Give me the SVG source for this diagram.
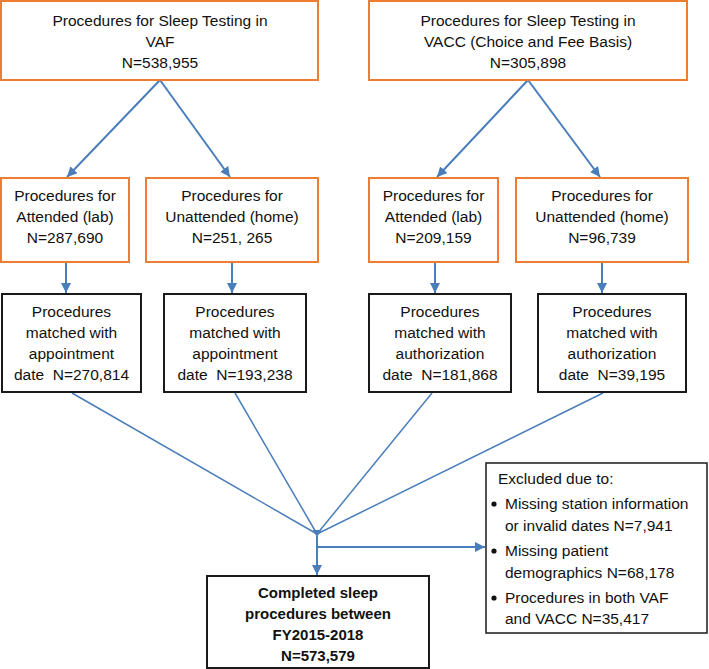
<svg xmlns="http://www.w3.org/2000/svg" width="709" height="669" viewBox="0 0 709 669">
<style>
  .o { fill: #ffffff; stroke: #ED7D31; stroke-width: 2; }
  .k { fill: #ffffff; stroke: #1a1a1a; stroke-width: 2; }
  .kx { fill: #ffffff; stroke: #1a1a1a; stroke-width: 1.5; }
  text { font-family: "Liberation Sans", Arial, sans-serif; font-size: 15.5px; fill: #111; white-space: pre; }
  .c { text-anchor: middle; }
  .b { font-weight: bold; font-size: 15px; }
  .ln { stroke: #4A7EBB; stroke-width: 2; fill: none; }
  .ln1 { stroke: #4A7EBB; stroke-width: 1.5; fill: none; }
</style>
<defs>
  <marker id="ah" viewBox="0 0 10 10" refX="10" refY="5" markerWidth="10" markerHeight="10" markerUnits="userSpaceOnUse" orient="auto">
    <path d="M0,0 L10,5 L0,10 z" fill="#4A7EBB"/>
  </marker>
</defs>

<g id="connectors">
  <line class="ln" x1="160" y1="80" x2="67" y2="177" marker-end="url(#ah)"/>
  <line class="ln" x1="160" y1="80" x2="230" y2="177" marker-end="url(#ah)"/>
  <line class="ln" x1="528" y1="80" x2="437" y2="177" marker-end="url(#ah)"/>
  <line class="ln" x1="528" y1="80" x2="600" y2="177" marker-end="url(#ah)"/>
  <line class="ln" x1="66" y1="263" x2="66" y2="293" marker-end="url(#ah)"/>
  <line class="ln" x1="232" y1="263" x2="232" y2="293" marker-end="url(#ah)"/>
  <line class="ln" x1="435" y1="263" x2="435" y2="293" marker-end="url(#ah)"/>
  <line class="ln" x1="602" y1="263" x2="602" y2="293" marker-end="url(#ah)"/>
  <line class="ln1" x1="72" y1="393" x2="317" y2="534"/>
  <line class="ln1" x1="235" y1="393" x2="317" y2="534"/>
  <line class="ln1" x1="432" y1="393" x2="317" y2="534"/>
  <line class="ln1" x1="603" y1="393" x2="317" y2="534"/>
  <path d="M312.5,530 L321.5,530 L317,537 z" fill="#4A7EBB"/>
  <line class="ln" x1="317" y1="536" x2="317" y2="575" marker-end="url(#ah)"/>
  <line class="ln" x1="317" y1="547" x2="485" y2="547" marker-end="url(#ah)"/>
</g>

<g id="vaf">
  <rect class="o" x="1" y="1" width="317" height="79"/>
  <text class="c" x="160" y="26">Procedures for Sleep Testing in</text>
  <text class="c" x="160" y="47">VAF</text>
  <text class="c" x="160" y="68">N=538,955</text>
</g>
<g id="vacc">
  <rect class="o" x="369" y="1" width="318" height="79"/>
  <text class="c" x="528" y="26">Procedures for Sleep Testing in</text>
  <text class="c" x="528" y="47">VACC (Choice and Fee Basis)</text>
  <text class="c" x="528" y="68">N=305,898</text>
</g>

<g id="vaf-attended">
  <rect class="o" x="1" y="178" width="128" height="84"/>
  <text class="c" x="65" y="201">Procedures for</text>
  <text class="c" x="65" y="222">Attended (lab)</text>
  <text class="c" x="65" y="243">N=287,690</text>
</g>
<g id="vaf-unattended">
  <rect class="o" x="146" y="178" width="172" height="84"/>
  <text class="c" x="232" y="201">Procedures for</text>
  <text class="c" x="232" y="222">Unattended (home)</text>
  <text class="c" x="232" y="243">N=251, 265</text>
</g>
<g id="vacc-attended">
  <rect class="o" x="369" y="178" width="129" height="84"/>
  <text class="c" x="433.5" y="201">Procedures for</text>
  <text class="c" x="433.5" y="222">Attended (lab)</text>
  <text class="c" x="433.5" y="243">N=209,159</text>
</g>
<g id="vacc-unattended">
  <rect class="o" x="516" y="178" width="172" height="84"/>
  <text class="c" x="602" y="201">Procedures for</text>
  <text class="c" x="602" y="222">Unattended (home)</text>
  <text class="c" x="602" y="243">N=96,739</text>
</g>

<g id="vaf-att-matched">
  <rect class="k" x="2" y="294" width="139" height="98"/>
  <text class="c" x="71.5" y="317">Procedures</text>
  <text class="c" x="71.5" y="338">matched with</text>
  <text class="c" x="71.5" y="359">appointment</text>
  <text class="c" x="71.5" y="380">date  N=270,814</text>
</g>
<g id="vaf-unatt-matched">
  <rect class="k" x="164" y="294" width="142" height="98"/>
  <text class="c" x="235" y="317">Procedures</text>
  <text class="c" x="235" y="338">matched with</text>
  <text class="c" x="235" y="359">appointment</text>
  <text class="c" x="235" y="380">date  N=193,238</text>
</g>
<g id="vacc-att-matched">
  <rect class="k" x="369" y="294" width="142" height="98"/>
  <text class="c" x="440" y="317">Procedures</text>
  <text class="c" x="440" y="338">matched with</text>
  <text class="c" x="440" y="359">authorization</text>
  <text class="c" x="440" y="380">date  N=181,868</text>
</g>
<g id="vacc-unatt-matched">
  <rect class="k" x="538" y="294" width="148" height="98"/>
  <text class="c" x="612" y="317">Procedures</text>
  <text class="c" x="612" y="338">matched with</text>
  <text class="c" x="612" y="359">authorization</text>
  <text class="c" x="612" y="380">date  N=39,195</text>
</g>

<g id="excluded">
  <rect class="kx" x="486" y="463" width="221" height="170"/>
  <text x="498" y="484">Excluded due to:</text>
  <circle cx="494" cy="504" r="2.6" fill="#111"/>
  <text x="505" y="509">Missing station information</text>
  <text x="505" y="531">or invalid dates N=7,941</text>
  <circle cx="494" cy="551" r="2.6" fill="#111"/>
  <text x="505" y="556">Missing patient</text>
  <text x="505" y="578">demographics N=68,178</text>
  <circle cx="494" cy="598" r="2.6" fill="#111"/>
  <text x="505" y="603">Procedures in both VAF</text>
  <text x="505" y="624">and VACC N=35,417</text>
</g>

<g id="completed">
  <rect class="k" x="207" y="576" width="222" height="92"/>
  <text class="c b" x="318" y="598">Completed sleep</text>
  <text class="c b" x="318" y="619">procedures between</text>
  <text class="c b" x="318" y="640">FY2015-2018</text>
  <text class="c b" x="318" y="661">N=573,579</text>
</g>
</svg>
